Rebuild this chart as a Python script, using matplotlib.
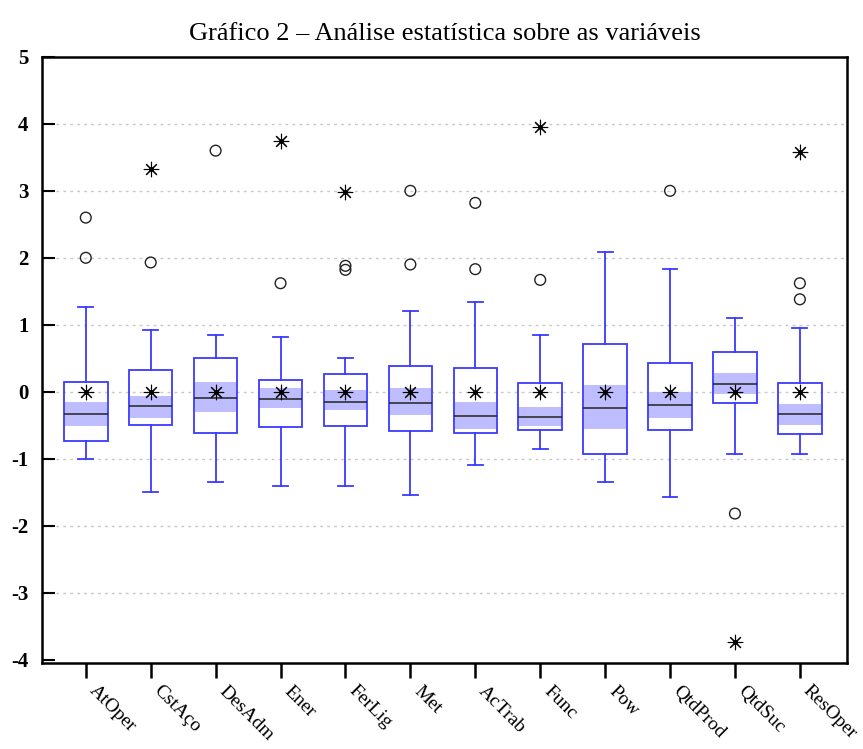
import matplotlib.pyplot as plt
import numpy as np

# Variáveis (padronizadas)
names = ['AtOper', 'CstAço', 'DesAdm', 'Ener', 'FerLig', 'Met',
         'AcTrab', 'Func', 'Pow', 'QtdProd', 'QtdSuc', 'ResOper']

# Estatísticas
q1 = [-0.73, -0.49, -0.61, -0.52, -0.51, -0.59, -0.61, -0.57, -0.93, -0.57, -0.17, -0.63]
med = [-0.34, -0.22, -0.10, -0.11, -0.15, -0.17, -0.36, -0.38, -0.24, -0.20, 0.12, -0.34]
q3 = [0.15, 0.32, 0.50, 0.18, 0.27, 0.39, 0.36, 0.13, 0.71, 0.43, 0.60, 0.13]
wlo = [-1.01, -1.50, -1.35, -1.41, -1.41, -1.54, -1.10, -0.85, -1.35, -1.58, -0.93, -0.93]
whi = [1.26, 0.92, 0.85, 0.82, 0.50, 1.20, 1.34, 0.84, 2.08, 1.84, 1.10, 0.95]
ci_lo = [-0.51, -0.39, -0.31, -0.25, -0.28, -0.35, -0.56, -0.51, -0.56, -0.40, -0.04, -0.49]
ci_hi = [-0.16, -0.06, 0.14, 0.05, 0.02, 0.05, -0.16, -0.23, 0.10, 0.00, 0.28, -0.18]
mean = [0, 0, 0, 0, 0, 0, 0, 0, 0, 0, 0, 0]

# Outliers (círculos) e extremos (asteriscos)
outliers = [[2.6, 2.0], [1.93], [3.6], [1.62], [1.88, 1.82], [3.0, 1.9],
            [2.82, 1.83], [1.67], [], [3.0], [-1.82], [1.62, 1.38]]
extremes = [[], [3.32], [], [3.74], [2.98], [], [], [3.95], [], [], [-3.74], [3.58]]

blue = '#3a3aff'
band = '#bdbdff'

plt.rcParams['font.family'] = ['Liberation Serif', 'DejaVu Serif']
plt.rcParams['axes.unicode_minus'] = False

fig, ax = plt.subplots(figsize=(8.63, 7.49), dpi=100)
fig.subplots_adjust(left=0.049, right=0.981, top=0.924, bottom=0.115)

pos = np.arange(1, len(names) + 1)

# faixa de confiança da mediana
ax.bar(pos, np.array(ci_hi) - np.array(ci_lo), bottom=ci_lo, width=0.64,
       color=band, zorder=2)

stats = []
for i in range(len(names)):
    stats.append({'med': med[i], 'q1': q1[i], 'q3': q3[i],
                  'whislo': wlo[i], 'whishi': whi[i], 'fliers': []})
ax.bxp(stats, positions=pos, widths=0.67, showfliers=False,
       patch_artist=True, manage_ticks=False,
       boxprops=dict(facecolor='none', edgecolor=blue, linewidth=1.3),
       whiskerprops=dict(color=blue, linewidth=1.3),
       capprops=dict(color=blue, linewidth=1.3),
       medianprops=dict(color='#222222', linewidth=1.1),
       capwidths=0.23, zorder=3)

# médias
ax.scatter(pos, mean, marker=(8, 2, 0), s=110, color='black', linewidths=0.8, zorder=4)
ax.scatter(pos, mean, marker='o', s=6, color='black', zorder=4)

for i in range(len(names)):
    if outliers[i]:
        ax.scatter([pos[i]] * len(outliers[i]), outliers[i], marker='o', s=60,
                   facecolor='none', edgecolor='#222222', linewidths=1.0, zorder=4)
    if extremes[i]:
        ax.scatter([pos[i]] * len(extremes[i]), extremes[i], marker=(8, 2, 0), s=110,
                   color='black', linewidths=0.8, zorder=4)
        ax.scatter([pos[i]] * len(extremes[i]), extremes[i], marker='o', s=6,
                   color='black', zorder=4)

ax.set_xlim(0.33, 12.72)
ax.set_ylim(-4.05, 5)
ax.set_yticks(np.arange(-4, 6, 1))
ax.set_xticks(pos)
ax.set_xticklabels(names, rotation=-45, ha='left', va='top', fontsize=14)
for t in ax.get_yticklabels():
    t.set_fontsize(15)
    t.set_fontweight('bold')

ax.tick_params(axis='x', direction='out', length=11, width=1.8, pad=3)
ax.tick_params(axis='y', direction='in', length=9, width=1.5, pad=10)

for yv in range(-3, 5):
    ax.axhline(yv, color='#c8c8c8', linestyle=(0, (2, 3)), linewidth=1.0, zorder=1)

for s in ax.spines.values():
    s.set_linewidth(1.8)

ax.set_title('Gráfico 2 – Análise estatística sobre as variáveis', fontsize=19, pad=12)

fig.savefig('out.png', dpi=100)
